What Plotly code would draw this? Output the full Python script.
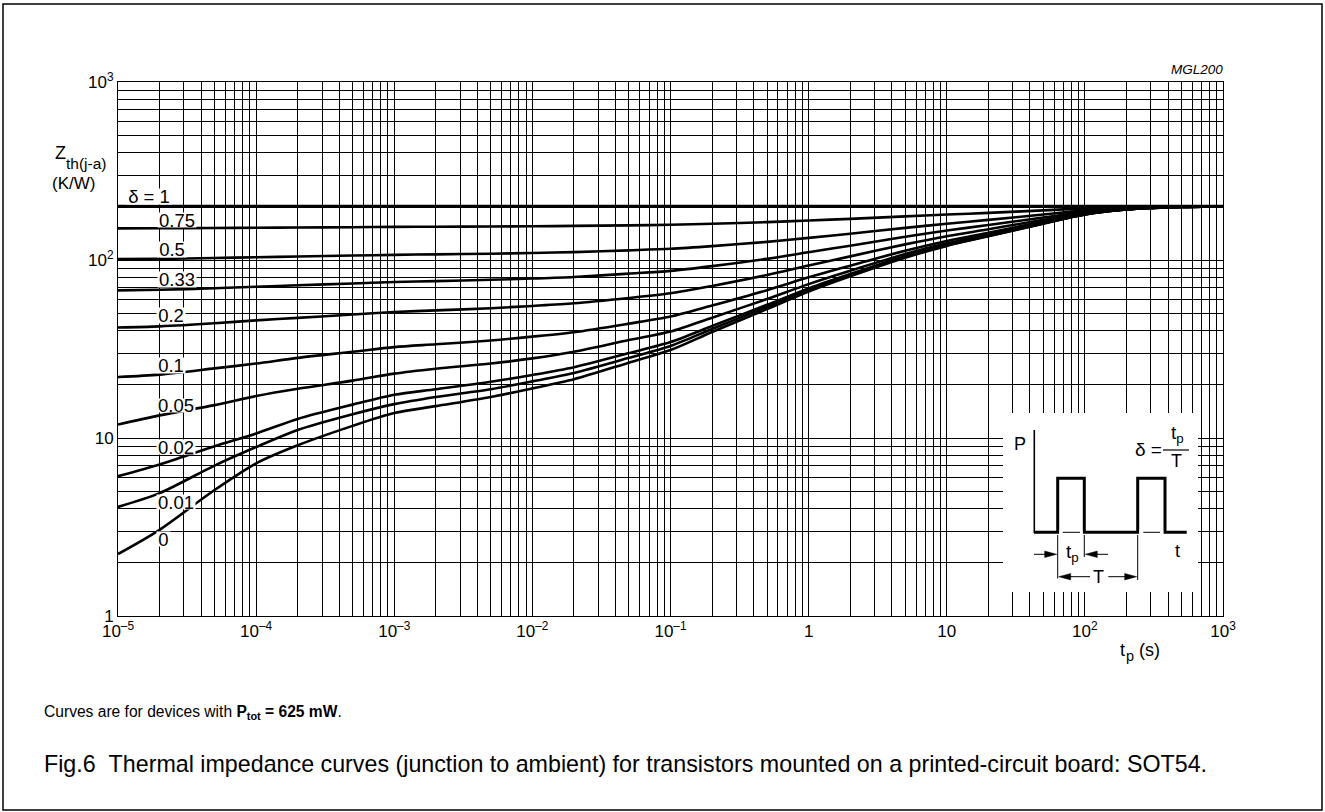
import plotly.graph_objects as go

# ---------------- data ----------------
t_p = [1e-5, 2e-5, 5e-5, 1e-4, 2e-4, 5e-4, 1e-3, 2e-3, 5e-3, 1e-2, 2e-2, 5e-2,
       0.1, 0.2, 0.5, 1, 2, 5, 10, 20, 50, 100, 200, 500, 1000]

t_d1 = [1e-5, 1000]
z_d1 = [200, 200]
z_d075 = [150.6, 150.8, 151.3, 151.8, 152.3, 152.9, 153.5, 153.8, 154.3, 154.8, 155.4, 156.6,
          157.8, 159.9, 163.3, 166.6, 170.3, 175.8, 180, 184, 190, 195, 198, 199.6, 200]
z_d05 = [101.1, 101.5, 102.6, 103.6, 104.6, 105.9, 106.9, 107.6, 108.5, 109.5, 110.7, 113.3,
         115.6, 119.7, 126.5, 133.2, 140.5, 151.5, 160, 168, 180, 190, 196, 199.2, 200]
z_d033 = [67.5, 68, 69.4, 70.8, 72.1, 73.8, 75.2, 76.1, 77.4, 78.7, 80.3, 83.8,
          86.9, 92.4, 101.5, 110.6, 120.3, 135, 146.4, 157.1, 173.2, 186.6, 194.6, 199, 200]
z_d02 = [41.8, 42.4, 44.1, 45.8, 47.3, 49.4, 51, 52.1, 53.6, 55.2, 57.1, 61.2,
         65, 71.5, 82.4, 93.2, 104.8, 122.4, 136, 148.8, 168, 184, 193.6, 198.8, 200]
z_d01 = [22.0, 22.7, 24.6, 26.2, 28.2, 30.5, 32.4, 33.6, 35.3, 37.1, 39.3, 43.9,
         48.1, 55.5, 67.7, 79.9, 92.9, 112.7, 128, 142.4, 164, 182, 192.8, 198.7, 200]
z_d005 = [11.9, 13.4, 15.3, 17.2, 18.9, 21.0, 23.0, 24.5, 26.2, 28, 30.5, 35.5,
          39.6, 47.4, 60.4, 73.2, 87, 107.9, 124, 139.2, 162, 181, 192.4, 198.6, 200]
z_d002 = [6.1, 7.1, 9.0, 10.6, 12.8, 15.4, 17.5, 18.8, 20.7, 22.6, 25, 30,
          34.6, 42.6, 56, 69.2, 83.4, 105, 121.6, 137.3, 160.8, 180.4, 192.2, 198.5, 200]
z_d001 = [4.1, 4.9, 7.0, 8.9, 11.1, 13.6, 15.5, 17.0, 18.8, 20.8, 23.2, 28.2,
          32.9, 41, 54.5, 67.8, 82.2, 104, 120.8, 136.6, 160.4, 180.2, 192, 198.5, 200]
z_d0 = [2.23, 3.05, 5.1, 7.2, 9.1, 11.7, 13.8, 15.1, 17.0, 19.0, 21.4, 26.5,
        31.2, 39.4, 53, 66.5, 81, 103, 120, 136, 160, 180, 192, 198.5, 200]

series = [z_d075, z_d05, z_d033, z_d02, z_d01, z_d005, z_d002, z_d001, z_d0]

delta_labels = ["δ = 1", "0.75", "0.5", "0.33", "0.2", "0.1", "0.05", "0.02", "0.01", "0"]

x_decades = [1e-5, 1e-4, 1e-3, 1e-2, 1e-1, 1, 10, 100, 1000]
x_decade_text = ["10<sup>–5</sup>", "10<sup>–4</sup>", "10<sup>–3</sup>", "10<sup>–2</sup>",
                 "10<sup>–1</sup>", "1", "10", "10<sup>2</sup>", "10<sup>3</sup>"]
y_decades = [1, 10, 100, 1000]
y_decade_text = ["1", "10", "10<sup>2</sup>", "10<sup>3</sup>"]
mantissas = [1, 2, 3, 4, 5, 6, 7, 8, 9]

# ---------------- geometry helpers (pixel -> paper) ----------------
W, H = 1325, 812
L, R, T, B = 118, 1223, 82, 616


def px(x):
    return (x - L) / (R - L)


def py(y):
    return (B - y) / (B - T)


def ticks(decades, texts):
    vals, txt = [], []
    for d, tx in zip(decades, texts):
        for m in mantissas:
            v = d * m
            if v > decades[-1] * 1.0001:
                continue
            vals.append(v)
            txt.append(tx if m == 1 else "")
    return vals, txt


xtv, xtt = ticks(x_decades, x_decade_text)
ytv, ytt = ticks(y_decades, y_decade_text)

FONT = "Liberation Sans, Arial, Helvetica, sans-serif"

fig = go.Figure()
fig.add_trace(go.Scatter(x=t_d1, y=z_d1, mode="lines",
                         line=dict(color="black", width=3.4), hoverinfo="skip"))
for z in series:
    fig.add_trace(go.Scatter(x=t_p, y=z, mode="lines",
                             line=dict(color="black", width=2.6, shape="spline", smoothing=0.8),
                             hoverinfo="skip"))

fig.update_layout(
    width=W, height=H,
    margin=dict(l=L, r=W - R, t=T, b=H - B),
    plot_bgcolor="white", paper_bgcolor="white",
    showlegend=False,
    font=dict(family=FONT, size=17, color="black"),
)
fig.update_xaxes(type="log", range=[-5, 3], tickvals=xtv, ticktext=xtt,
                 showgrid=True, gridcolor="black", gridwidth=1,
                 showline=True, linecolor="black", linewidth=1, mirror=True,
                 ticks="", zeroline=False, tickfont=dict(size=17, family=FONT))
fig.update_yaxes(type="log", range=[0, 3], tickvals=ytv, ticktext=ytt,
                 showgrid=True, gridcolor="black", gridwidth=1,
                 showline=True, linecolor="black", linewidth=1, mirror=True,
                 ticks="", zeroline=False, tickfont=dict(size=17, family=FONT))


def text(txt, x, y, size, anchor="left", **kw):
    fig.add_annotation(x=px(x), y=py(y), xref="paper", yref="paper", text=txt,
                       showarrow=False, xanchor=anchor, yanchor="middle",
                       font=dict(size=size, family=FONT, color="black"), **kw)


# ---------------- curve labels (tight white boxes hide the grid behind the text) ----------------
label_pos = [(126, 196.5), (157, 219.5), (157, 249), (157, 279.5), (156, 315.5),
             (156, 365), (156, 405.5), (156, 446.5), (156, 501.5), (156, 539)]
label_w = [44, 38, 28, 38, 28, 28, 38, 38, 38, 13]
label_h = [15, 14, 15, 15, 15, 15, 13, 14, 14, 14]
for txt, (lx, ly), bw, bh in zip(delta_labels, label_pos, label_w, label_h):
    text(txt, lx, ly, 18.5, bgcolor="white", borderpad=0, width=bw, height=bh)

# ---------------- axis titles and texts ----------------
text("Z", 67.5, 153, 18, anchor="right")
text("th(j-a)", 108, 163, 15.5, anchor="right")
text("(K/W)", 97, 183, 17, anchor="right")
text("t", 1118, 650, 18)
text("p", 1124, 656, 14.5)
text("(s)", 1162, 650, 18, anchor="right")
text("<i>MGL200</i>", 1225, 69, 13.5, anchor="right")
text("Curves are for devices with <b>P<sub>tot</sub> = 625 mW</b>.", 42, 713, 15.6)
text("Fig.6\u00a0\u00a0Thermal impedance curves (junction to ambient) for transistors "
     "mounted on a printed-circuit board: SOT54.", 42, 764, 23.25)

# ---------------- inset (pulse diagram) ----------------
shapes = []
shapes.append(dict(type="rect", xref="paper", yref="paper", x0=px(1003), x1=px(1198),
                   y0=py(592), y1=py(413), fillcolor="white", line=dict(width=0), layer="above"))


def seg(x0, y0, x1, y1, w=1.0):
    shapes.append(dict(type="line", xref="paper", yref="paper", x0=px(x0), y0=py(y0),
                       x1=px(x1), y1=py(y1), line=dict(color="black", width=w), layer="above"))


def tri(xtip, y, direction, length=12, half=3.2):
    xb = xtip - direction * length
    path = "M {} {} L {} {} L {} {} Z".format(px(xtip), py(y), px(xb), py(y - half), px(xb), py(y + half))
    shapes.append(dict(type="path", xref="paper", yref="paper", path=path,
                       fillcolor="black", line=dict(color="black", width=0.5), layer="above"))


# P axis
seg(1034.3, 430, 1034.3, 533, 1.6)
# pulse train
pts = [(1034, 532.3), (1057.7, 532.3), (1057.7, 478.3), (1084.3, 478.3), (1084.3, 532.3),
       (1137.7, 532.3), (1137.7, 478.3), (1165, 478.3), (1165, 532.3), (1186.7, 532.3)]
baseline_path = "M " + " L ".join("{} {}".format(px(a), py(b)) for a, b in pts)
shapes.append(dict(type="path", xref="paper", yref="paper", path=baseline_path,
                   line=dict(color="black", width=3), layer="above"))
# hide baseline under pulses, then thin dashes
shapes.append(dict(type="rect", xref="paper", yref="paper", x0=px(1059.5), x1=px(1082.5),
                   y0=py(534.5), y1=py(530), fillcolor="white", line=dict(width=0), layer="above"))
shapes.append(dict(type="rect", xref="paper", yref="paper", x0=px(1139.5), x1=px(1163.2),
                   y0=py(534.5), y1=py(530), fillcolor="white", line=dict(width=0), layer="above"))
seg(1062.7, 532.3, 1080, 532.3, 1)
seg(1143.3, 532.3, 1160, 532.3, 1)
# dimension lines
seg(1057.7, 535, 1057.7, 578.5, 1)
seg(1084.3, 535, 1084.3, 557, 1)
seg(1137.7, 535, 1137.7, 580, 1)
# tp arrows
seg(1034, 554.3, 1046, 554.3, 1)
tri(1056.7, 554.3, +1)
seg(1096, 554.3, 1108, 554.3, 1)
tri(1085.3, 554.3, -1)
# T arrows
seg(1070, 576.7, 1090, 576.7, 1)
tri(1058.7, 576.7, -1)
seg(1108.3, 576.7, 1125, 576.7, 1)
tri(1136.7, 576.7, +1)
# fraction bar
seg(1163, 450, 1189, 450, 1.2)

# outer frame
shapes.append(dict(type="rect", xref="paper", yref="paper", x0=px(3), x1=px(1322), y0=py(810), y1=py(4),
                   line=dict(color="black", width=1.5), fillcolor="rgba(0,0,0,0)", layer="above"))

fig.update_layout(shapes=shapes)

text("P", 1020, 444, 18, anchor="center")
text("t", 1177, 551, 18, anchor="center")
text("t<sub>p</sub>", 1072, 553, 19, anchor="center")
text("T", 1098, 577, 18, anchor="center")
text("δ =", 1148.5, 449, 19, anchor="center")
text("t<sub>p</sub>", 1177, 434, 19, anchor="center")
text("T", 1176, 461, 18, anchor="center")

fig.write_html("out.html", config={"displayModeBar": False},
               post_script="document.body.style.margin='0';document.body.style.overflow='hidden';")
